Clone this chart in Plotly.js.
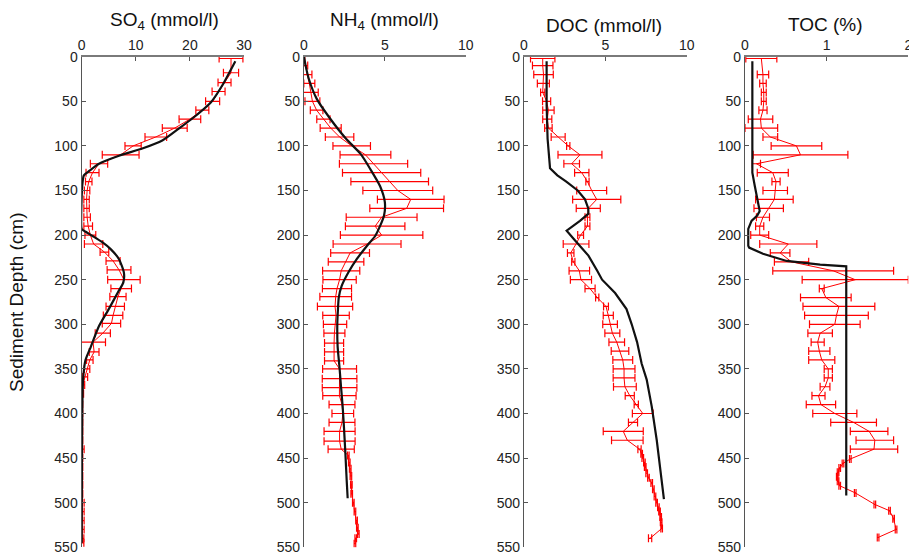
<!DOCTYPE html>
<html>
<head>
<meta charset="utf-8">
<script src="https://cdn.plot.ly/plotly-3.0.1.min.js"></script>
<style>html,body{margin:0;padding:0;background:#fff;}#chart{width:909px;height:555px;}</style>
</head>
<body>
<div id="chart"></div>
<script>
// ---------- SO4 (mmol/l) ----------
const so4Depth = [2,18,29,39,50,60,70,80,90,100,110,120,130,140,150,160,170,180,190,200,210,219,229,239,250,260,269,280,290,299,310,320,331,340,350,359,368,378,390,400,410,420,430,440,450,460,470,480,490,500,510,520,530,540,545];
const so4Val   = [27.6,27.6,26.4,25.3,24.2,22.3,20.0,17.2,13.7,9.5,7.2,3.2,2.0,1.3,1.0,0.9,0.9,1.0,1.2,1.6,2.2,4.2,5.8,6.9,7.8,7.3,6.7,6.2,5.8,5.5,3.9,2.1,2.3,1.5,1.0,0.6,0.25,0.15,0.1,0.1,0.1,0.1,0.1,0.15,0.1,0.1,0.1,0.1,0.1,0.15,0.15,0.15,0.15,0.1,0.1];
const so4Err   = [2.2,1.4,1.2,1.2,1.3,1.2,2.0,2.3,2.0,1.5,3.4,1.6,1.2,0.6,0.5,0.5,0.5,0.6,0.8,1.0,1.7,0.8,1.3,2.2,3.0,1.9,1.5,1.7,1.8,1.7,1.4,2.3,0.9,0.6,0.5,0.5,0.3,0.2,0.1,0.1,0.1,0.1,0.1,0.3,0.1,0.1,0.1,0.1,0.1,0.3,0.3,0.3,0.3,0.3,0.3];
const so4ModelDepth = [5,32,51,69,79,94,103,111,120,128,133,145,193,195,201,208,216,227,242,253,263,283,302,325,340,362,400,450,500,545];
const so4ModelVal   = [28.4,26.0,23.9,20.5,18.3,14.9,11.2,6.9,3.2,1.4,0.4,0.1,0.0,0.4,2.0,3.8,5.4,6.9,7.8,7.7,6.8,5.0,3.2,1.7,0.7,0.25,0.1,0.05,0.02,0.0];

// ---------- NH4 (mmol/l) ----------
const nh4Depth = [0,10,20,30,40,50,60,70,80,90,100,110,120,130,140,150,160,170,180,190,200,210,220,230,240,250,260,269,280,290,300,310,321,331,341,350,361,371,380,390,400,410,420,431,440,447,455,462,470,480,490,500,510,520,528,535,540,546];
const nh4Val   = [0.0,0.08,0.2,0.33,0.42,0.52,0.78,1.2,1.65,2.2,2.95,3.8,4.3,4.8,5.3,5.8,6.6,6.35,4.8,4.4,4.8,3.9,2.85,2.6,2.3,2.2,2.04,1.96,1.92,1.98,1.92,1.88,1.86,1.86,1.86,2.2,2.2,2.2,2.19,2.35,2.4,2.35,2.2,2.2,2.3,2.74,2.8,2.86,2.9,2.93,2.95,3.05,3.15,3.25,3.3,3.36,3.2,3.15];
const nh4Err   = [0.05,0.15,0.29,0.34,0.46,0.46,0.39,0.41,0.65,0.88,1.16,1.57,2.11,2.42,2.4,2.16,2.06,2.28,2.19,1.84,2.55,2.1,1.2,1.1,1.15,1.03,0.9,0.98,1.09,0.82,0.72,0.65,0.59,0.59,0.59,1.05,1.07,1.07,1.03,0.8,0.67,0.8,0.96,0.96,0.81,0.05,0.05,0.05,0.05,0.05,0.05,0.05,0.05,0.05,0.05,0.05,0.05,0.05];
const nh4ModelDepth = [0,10,25,47,69,92,109,126,145,163,178,190,201,212,227,242,257,270,283,300,325,347,370,392,415,445,475,495];
const nh4ModelVal   = [0.0,0.1,0.3,0.78,1.6,2.6,3.5,4.1,4.7,5.0,4.95,4.7,4.4,3.9,3.26,2.74,2.33,2.15,2.1,2.06,2.08,2.19,2.29,2.39,2.47,2.56,2.64,2.7];

// ---------- DOC (mmol/l) ----------
const docDepth = [2,10,20,30,40,50,60,70,80,90,100,110,120,130,140,150,160,170,180,190,200,210,220,230,240,250,260,270,280,290,300,310,320,330,340,350,360,370,380,390,400,410,420,430,440,445,450,455,460,467,472,478,485,493,500,505,510,516,522,529,540];
const docVal   = [1.15,1.15,1.2,1.19,1.15,1.39,1.5,1.43,1.5,2.1,2.72,3.44,2.93,3.55,3.9,4.16,4.47,3.95,3.9,3.9,3.48,3.2,2.87,3.03,3.4,3.5,4.06,4.5,5.04,5.18,5.29,5.43,5.7,5.9,6.07,6.15,6.15,6.2,6.5,6.9,7.3,6.7,6.1,6.35,7.1,7.23,7.3,7.4,7.45,7.54,7.65,7.85,7.95,8.05,8.15,8.26,8.33,8.4,8.43,8.46,7.75];
const docErr   = [0.75,0.63,0.6,0.37,0.13,0.25,0.35,0.28,0.23,0.43,0.1,1.35,0.48,0.44,0.1,0.92,1.48,0.74,0.15,0.15,0.18,0.79,0.2,0.1,0.63,0.65,0.31,0.1,0.15,0.31,0.45,0.46,0.48,0.54,0.61,0.67,0.67,0.7,0.28,0.13,0.64,0.28,1.23,0.97,0.1,0.05,0.05,0.05,0.05,0.05,0.05,0.05,0.05,0.05,0.05,0.05,0.05,0.05,0.05,0.05,0.1];
const docModelDepth = [5,54,92,125,133,140,150,160,170,176,184,195,206,223,240,250,265,283,300,320,344,362,392,430,475,496];
const docModelVal   = [1.39,1.39,1.45,1.6,2.05,2.6,3.3,3.75,3.95,3.96,3.44,2.62,3.14,3.96,4.5,4.8,5.6,6.3,6.62,6.95,7.23,7.54,7.85,8.16,8.46,8.6];

// ---------- TOC (%) ----------
const tocDepth = [2,20,30,40,50,60,70,80,90,100,110,120,130,140,150,160,170,180,190,200,210,220,230,240,250,260,270,280,290,300,310,320,330,340,350,360,370,380,390,400,410,420,430,440,451,456,461,466,471,476,481,489,502,509,518,530,539];
const tocVal   = [0.2,0.22,0.22,0.23,0.23,0.22,0.19,0.2,0.31,0.63,0.68,0.14,0.34,0.38,0.37,0.36,0.29,0.22,0.18,0.18,0.53,0.43,0.57,1.08,1.35,0.94,0.99,1.15,1.12,1.1,0.92,0.89,0.91,0.94,1.02,1.02,0.98,0.9,0.93,1.1,1.33,1.52,1.59,1.58,1.29,1.2,1.16,1.14,1.13,1.14,1.16,1.35,1.59,1.77,1.82,1.85,1.63];
const tocErr   = [0.19,0.07,0.04,0.03,0.03,0.05,0.15,0.2,0.09,0.31,0.58,0.05,0.19,0.05,0.15,0.23,0.18,0.08,0.05,0.11,0.35,0.12,0.21,0.74,0.65,0.03,0.31,0.44,0.39,0.31,0.15,0.08,0.13,0.16,0.05,0.05,0.06,0.08,0.18,0.27,0.28,0.23,0.23,0.29,0.01,0.01,0.01,0.01,0.01,0.01,0.01,0.01,0.01,0.01,0.01,0.01,0.01];
const tocModelDepth = [5,130,145,163,173,178,184,193,212,214,221,229,233,235,492];
const tocModelVal   = [0.09,0.09,0.12,0.16,0.18,0.15,0.08,0.04,0.04,0.05,0.22,0.51,0.92,1.24,1.24];

// ---------- labels ----------
const panelTitles = ['SO<sub>4</sub> (mmol/l)','NH<sub>4</sub> (mmol/l)','DOC (mmol/l)','TOC (%)'];
const xRanges = [[0,30],[0,10],[0,10],[0,2]];
const xTicks = [[0,10,20,30],[0,5,10],[0,5,10],[0,1,2]];
const yTicks = [0,50,100,150,200,250,300,350,400,450,500,550];
const yTitle = 'Sediment Depth (cm)';

const W = 909, H = 555;
const panelLeft = [81.7, 304, 524, 745];
const panelRight = [244, 465.7, 686.7, 908.3];
const plotTop = 56.7, plotBottom = 547.3;
const titleX = [164, 384, 604, 825];
const titleY = [21, 21, 26, 24];
const modelShape = ['spline', 'spline', 'linear', 'linear'];

const data = [];
const sets = [
  [so4Depth, so4Val, so4Err, so4ModelDepth, so4ModelVal],
  [nh4Depth, nh4Val, nh4Err, nh4ModelDepth, nh4ModelVal],
  [docDepth, docVal, docErr, docModelDepth, docModelVal],
  [tocDepth, tocVal, tocErr, tocModelDepth, tocModelVal]
];
const fontFam = 'Liberation Sans, Arial, Helvetica, sans-serif';
const layout = {
  width: W, height: H,
  margin: {l:0, r:0, t:0, b:0},
  paper_bgcolor: '#fff', plot_bgcolor: '#fff',
  showlegend: false,
  font: {family: fontFam, size: 14, color: '#222'},
  annotations: []
};
sets.forEach((s, i) => {
  const xa = i === 0 ? 'x' : 'x' + (i + 1);
  const ya = i === 0 ? 'y' : 'y' + (i + 1);
  data.push({
    type: 'scatter', mode: 'lines', x: s[1], y: s[0], xaxis: xa, yaxis: ya,
    line: {color: '#ff0000', width: 1},
    error_x: {type: 'data', array: s[2], symmetric: true, color: '#ff0000', thickness: 1.2, width: 4},
    hoverinfo: 'skip', cliponaxis: false
  });
  const ml = {color: '#111111', width: 2.2, shape: modelShape[i]};
  if (modelShape[i] === 'spline') ml.smoothing = 0.6;
  data.push({
    type: 'scatter', mode: 'lines', x: s[4], y: s[3], xaxis: xa, yaxis: ya,
    line: ml, hoverinfo: 'skip'
  });
  const xKey = i === 0 ? 'xaxis' : 'xaxis' + (i + 1);
  const yKey = i === 0 ? 'yaxis' : 'yaxis' + (i + 1);
  layout[xKey] = {
    domain: [panelLeft[i] / W, panelRight[i] / W],
    anchor: ya, side: 'top', range: xRanges[i],
    tickmode: 'array', tickvals: xTicks[i], ticktext: xTicks[i].map(String),
    ticks: 'inside', ticklen: 4, tickcolor: '#555',
    showline: true, linecolor: '#7a7a7a', linewidth: 1.5,
    showgrid: false, zeroline: false, ticklabeloverflow: 'allow',
    tickfont: {family: fontFam, size: 14, color: '#222'}
  };
  layout[yKey] = {
    domain: [1 - plotBottom / H, 1 - plotTop / H],
    anchor: xa, range: [550.01, 0],
    tickmode: 'array', tickvals: yTicks, ticktext: yTicks.map(String),
    ticks: 'inside', ticklen: 4, tickcolor: '#555',
    showline: true, linecolor: '#555', linewidth: 1.2,
    showgrid: false, zeroline: false, ticklabeloverflow: 'allow',
    tickfont: {family: fontFam, size: 14, color: '#222'}
  };
  layout.annotations.push({
    xref: 'paper', yref: 'paper', x: titleX[i] / W, y: 1 - titleY[i] / H,
    xanchor: 'center', yanchor: 'middle', showarrow: false,
    text: panelTitles[i], font: {family: fontFam, size: 19, color: '#111'}
  });
});
layout.annotations.push({
  xref: 'paper', yref: 'paper', x: 16 / W, y: 1 - 302 / H,
  xanchor: 'center', yanchor: 'middle', showarrow: false, textangle: -90,
  text: yTitle, font: {family: fontFam, size: 19, color: '#111'}
});
Plotly.newPlot('chart', data, layout, {displayModeBar: false, staticPlot: true});
</script>
</body>
</html>
